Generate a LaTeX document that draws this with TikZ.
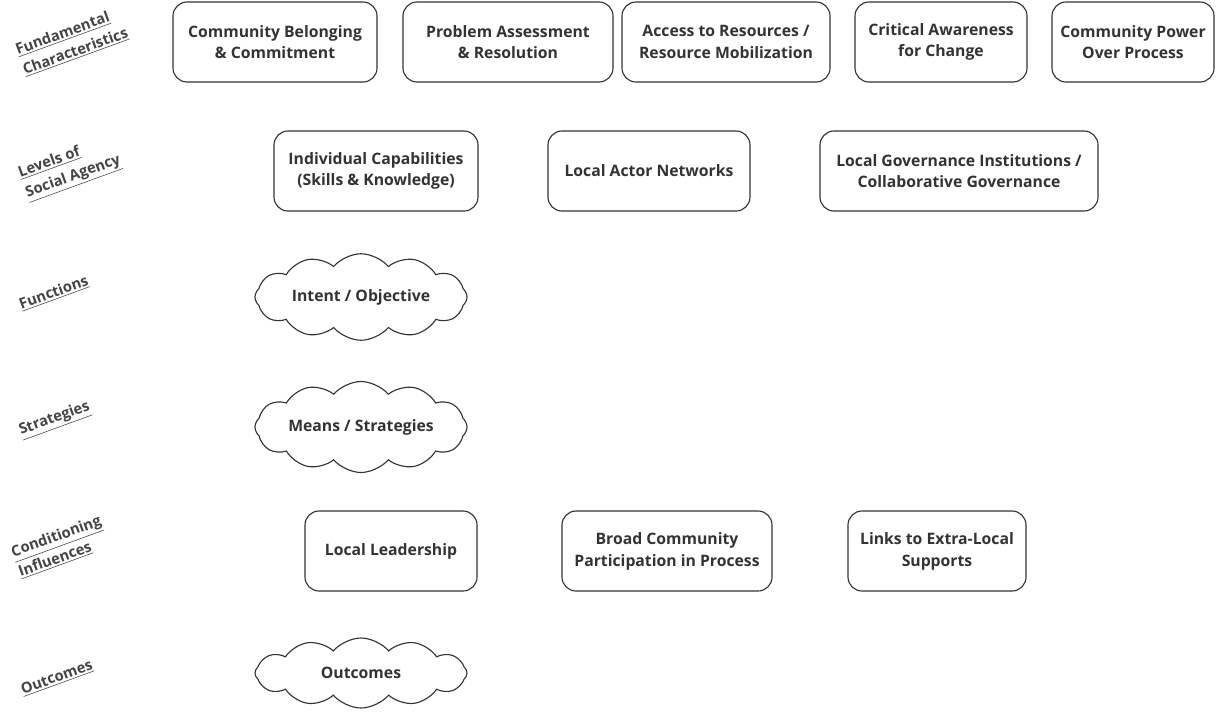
\documentclass[tikz,border=0pt]{standalone}
\usepackage{fontspec}
\setmainfont{Open Sans}
\usetikzlibrary{shapes.symbols}
\definecolor{cline}{HTML}{333333}
\definecolor{ctext}{HTML}{333333}
\definecolor{clabel}{HTML}{444444}

\begin{document}
\begin{tikzpicture}[x=0.025cm, y=-0.025cm,
  box/.style={draw=cline, line width=0.8pt, rounded corners=10pt, minimum height=2cm, align=center, text=ctext, font=\fontsize{11.2}{15.5}\selectfont\bfseries},
  puff/.style={draw=cline, line width=0.8pt, cloud, cloud puffs=12, cloud puff arc=100, aspect=3, minimum width=5.3cm, minimum height=1.75cm, inner sep=0pt, text=ctext, font=\fontsize{11.2}{15.5}\selectfont\bfseries},
  rowlabel/.style={rotate=20, align=left, inner sep=0pt, text=clabel, font=\fontsize{10.5}{15}\selectfont\bfseries}
]
  \useasboundingbox (0,0) rectangle (1220,713);

  % Row labels
  \node[rowlabel] (lfund) at (72,42) {\underline{Fundamental}\\\underline{Characteristics}};
  \node[rowlabel] (llevel) at (70,168) {\underline{Levels of}\\\underline{Social Agency}};
  \node[rowlabel] (lfunc) at (54,293) {\underline{Functions}};
  \node[rowlabel] (lstrat) at (55,420) {\underline{Strategies}};
  \node[rowlabel] (lcond) at (60,547) {\underline{Conditioning}\\\underline{Influences}};
  \node[rowlabel] (lout) at (57,678) {\underline{Outcomes}};

  % Fundamental characteristics
  \node[box, minimum width=5.1cm] (belong) at (275,42) {Community Belonging\\\& Commitment};
  \node[box, minimum width=5.25cm] (problem) at (508,42) {Problem Assessment\\\& Resolution};
  \node[box, minimum width=5.2cm] (access) at (726,42) {Access to Resources /\\Resource Mobilization};
  \node[box, minimum width=4.3cm] (aware) at (941,42) {Critical Awareness\\for Change};
  \node[box, minimum width=4.05cm] (power) at (1133,42) {Community Power\\Over Process};

  % Levels of social agency
  \node[box, minimum width=5.1cm] (indiv) at (376,171) {Individual Capabilities\\(Skills \& Knowledge)};
  \node[box, minimum width=5.05cm] (actor) at (649,171) {Local Actor Networks};
  \node[box, minimum width=6.95cm] (govern) at (959,171) {Local Governance Institutions /\\Collaborative Governance};

  % Functions and strategies
  \node[puff] (intent) at (361,297) {Intent / Objective};
  \node[puff] (means) at (361,427) {Means / Strategies};

  % Conditioning influences
  \node[box, minimum width=4.3cm] (leader) at (391,551) {Local Leadership};
  \node[box, minimum width=5.25cm] (partic) at (667,551) {Broad Community\\Participation in Process};
  \node[box, minimum width=4.45cm] (links) at (937,551) {Links to Extra-Local\\Supports};

  % Outcomes
  \node[puff] (outcome) at (361,673) {Outcomes};

\end{tikzpicture}
\end{document}
